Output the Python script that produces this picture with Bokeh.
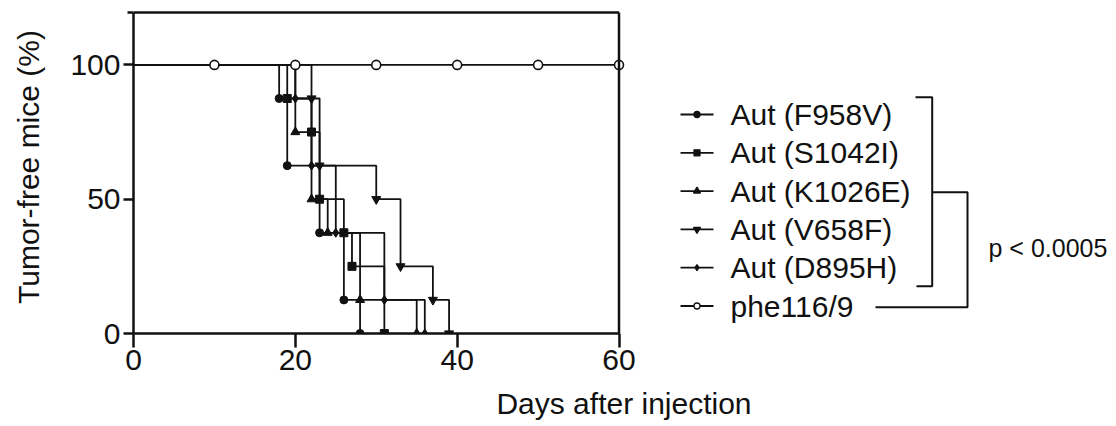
from bokeh.plotting import figure
from bokeh.models import Range1d, FixedTicker
from bokeh.embed import file_html
from bokeh.resources import INLINE
from bokeh.core.properties import value

FONT = "Liberation Sans"
INK = "#111111"

# ---------------- data ----------------
labels = ["Aut (F958V)", "Aut (S1042I)", "Aut (K1026E)", "Aut (V658F)", "Aut (D895H)", "phe116/9"]
markers = ["circle", "square", "triangle", "inverted_triangle", "diamond", "circle"]

f958v_days = [18, 19, 23, 26, 28]
f958v_pct = [87.5, 62.5, 37.5, 12.5, 0]
s1042i_days = [19, 22, 23, 26, 27, 31]
s1042i_pct = [87.5, 75, 50, 37.5, 25, 0]
k1026e_days = [20, 22, 24, 28, 35]
k1026e_pct = [75, 50, 37.5, 12.5, 0]
v658f_days = [22, 23, 30, 33, 37, 39]
v658f_pct = [87.5, 62.5, 50, 25, 12.5, 0]
d895h_days = [20, 22, 25, 31, 36]
d895h_pct = [87.5, 62.5, 37.5, 12.5, 0]
phe_days = [10, 20, 30, 40, 50, 60]
phe_pct = [100, 100, 100, 100, 100, 100]
start_pct = 100

x_ticks = [0, 20, 40, 60]
y_ticks = [0, 50, 100]
x_title = "Days after injection"
y_title = "Tumor-free mice (%)"
p_label = "p < 0.0005"

series_days = [f958v_days, s1042i_days, k1026e_days, v658f_days, d895h_days]
series_pct = [f958v_pct, s1042i_pct, k1026e_pct, v658f_pct, d895h_pct]

# ---------------- geometry ----------------
W, H = 1114, 425
PXD = 8.0917        # px per day
PXP = 2.686         # px per percent
FRAME_L = 133
FRAME_B = 333
FRAME_W = W - FRAME_L
FRAME_H = FRAME_B
X_END = FRAME_W / PXD
Y_END = FRAME_H / PXP
Y_TOP = 119.5

def dx(px):
    return (px - FRAME_L) / PXD

def dy(py):
    return (FRAME_B - py) / PXP

p = figure(frame_width=FRAME_W, frame_height=FRAME_H,
           x_range=Range1d(0, X_END), y_range=Range1d(0, Y_END),
           min_border_left=FRAME_L, min_border_right=0, min_border_top=0,
           min_border_bottom=H - FRAME_B, output_backend="svg", toolbar_location=None)
p.outline_line_color = None
p.xgrid.visible = False
p.ygrid.visible = False
p.background_fill_color = "white"
p.border_fill_color = "white"

LW = 1.8
main_sizes = [8, 8, 9, 9, 9]
leg_sizes = [6, 6, 7, 7, 6, 6]

# survival step curves
for days, pct, mk, sz in zip(series_days, series_pct, markers[:5], main_sizes):
    p.step(x=[0] + days, y=[start_pct] + pct, mode="after", line_width=LW, line_color=INK)
    p.scatter(x=days, y=pct, marker=mk, size=sz, fill_color=INK, line_color=INK)

p.line(x=[0] + phe_days, y=[start_pct] + phe_pct, line_width=LW, line_color=INK)
p.scatter(x=phe_days, y=phe_pct, marker="circle", size=9, fill_color="white",
          line_color=INK, line_width=1.6)

# box (top and right)
p.line(x=[0, x_ticks[-1]], y=[Y_TOP, Y_TOP], line_width=2.5, line_color=INK)
p.line(x=[x_ticks[-1], x_ticks[-1]], y=[0, Y_TOP], line_width=2.5, line_color=INK)

# legend
for i, (lab, mk, sz) in enumerate(zip(labels, markers, leg_sizes)):
    yy = dy(114 + 38.3 * i)
    p.line(x=[dx(680), dx(713)], y=[yy, yy], line_width=LW, line_color=INK)
    filled = i < 5
    p.scatter(x=[dx(696.5)], y=[yy], marker=mk, size=sz,
              fill_color=INK if filled else "white", line_color=INK, line_width=1.3)
    p.text(x=[dx(730)], y=[yy], text=[lab], text_font=value(FONT),
           text_font_size="30px", text_baseline="middle", text_align="left",
           text_color=INK)

# brackets
p.multi_line(xs=[[dx(915), dx(931.7), dx(931.7), dx(916)],
                 [dx(931.7), dx(967), dx(967), dx(875)]],
             ys=[[dy(96.7), dy(96.7), dy(285.7), dy(285.7)],
                 [dy(191.7), dy(191.7), dy(306.7), dy(306.7)]],
             line_width=2, line_color=INK)
p.text(x=[dx(988)], y=[dy(247)], text=[p_label], text_font=value(FONT),
       text_font_size="25px", text_baseline="middle", text_align="left",
       text_color=INK)

# axes
for ax in (p.xaxis[0], p.yaxis[0]):
    ax.axis_line_width = 2.5
    ax.axis_line_color = INK
    ax.major_tick_line_width = 2.5
    ax.major_tick_line_color = INK
    ax.major_tick_in = 0
    ax.major_label_text_font = FONT
    ax.major_label_text_font_size = "30px"
    ax.major_label_text_color = INK
    ax.axis_label_text_font = FONT
    ax.axis_label_text_font_size = "30px"
    ax.axis_label_text_font_style = "normal"
    ax.axis_label_text_color = INK

xa = p.xaxis[0]
xa.bounds = (0, x_ticks[-1])
xa.ticker = FixedTicker(ticks=x_ticks)
xa.major_tick_out = 14
xa.minor_tick_line_color = None
xa.major_label_standoff = 2
xa.axis_label = x_title
xa.axis_label_standoff = 14

ya = p.yaxis[0]
ya.bounds = (0, Y_TOP)
ya.ticker = FixedTicker(ticks=y_ticks, minor_ticks=[Y_TOP])
ya.major_tick_out = 10
ya.minor_tick_in = 0
ya.minor_tick_out = 6
ya.minor_tick_line_width = 2.5
ya.minor_tick_line_color = INK
ya.major_label_standoff = 3
ya.axis_label = y_title
ya.axis_label_standoff = 22

open("out.html", "w").write(file_html(p, INLINE))
